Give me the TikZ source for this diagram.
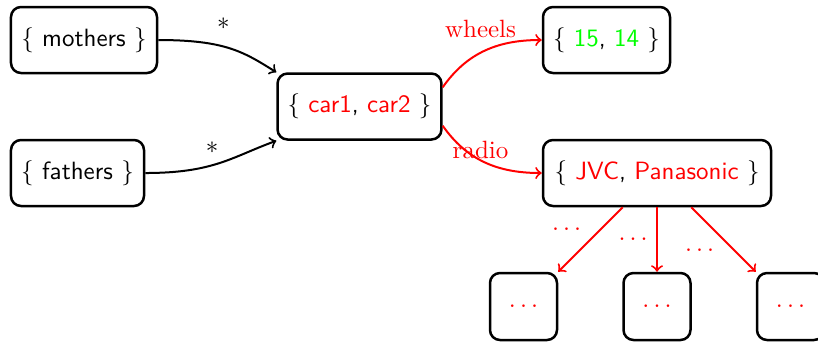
\documentclass[tikz,border=0pt]{standalone}
\usetikzlibrary{calc}
\begin{document}
\begin{tikzpicture}[x=0.4pt,y=-0.4pt,
  box/.style={draw, line width=1pt, rounded corners=4pt, minimum height=26.4pt,
    inner xsep=4pt, font=\sffamily},
  leaf/.style={box, minimum width=26.8pt, minimum height=26.8pt},
  blk/.style={->, line width=0.8pt},
  rd/.style={->, line width=0.8pt, red},
  dots/.style={text=red}]
\useasboundingbox (0,0) rectangle (818,343);

% record nodes
\node[box, minimum width=58.4pt] (mo) at (84,40) {$\{$ mothers $\}$};
\node[box, minimum width=53.2pt] (fa) at (77.5,173) {$\{$ fathers $\}$};
\node[box, minimum width=65.2pt] (car) at (359.5,106.5)
  {$\{$ \textcolor{red}{car1}, \textcolor{red}{car2} $\}$};
\node[box, minimum width=50.8pt] (wh) at (606.5,40)
  {$\{$ \textcolor{green}{15}, \textcolor{green}{14} $\}$};
\node[box, minimum width=91.2pt] (ra) at (657,173)
  {$\{$ \textcolor{red}{JVC}, \textcolor{red}{Panasonic} $\}$};
\node[leaf] (d1) at (523.5,306.5) {\textcolor{red}{$\dots$}};
\node[leaf] (d2) at (657,306.5) {\textcolor{red}{$\dots$}};
\node[leaf] (d3) at (790.5,306.5) {\textcolor{red}{$\dots$}};

% incoming references
\draw[blk] (mo.east) to[out=0,in=148,out looseness=1.4,in looseness=0.8]
  node[pos=0.5,auto,xshift=-9pt,yshift=4pt]{$*$} (car.north west);
\draw[blk] (fa.east) to[out=0,in=200,out looseness=1.3,in looseness=0.9]
  node[pos=0.5,auto,xshift=3.2pt]{$*$} (car.south west);

% outgoing attributes
\draw[rd] (car.13) to[out=55,in=180]
  node[pos=0.45,above,yshift=2.4pt]{wheels} (wh.west);
\draw[rd] (car.-13) to[out=-55,in=180]
  node[pos=0.45,above,yshift=-3.2pt]{radio} (ra.west);

% children of the radio set
\draw[rd] (ra) -- node[midway,auto=right,dots]{$\dots$} (d1);
\draw[rd] (ra) -- node[midway,auto=right,dots]{$\dots$} (d2);
\draw[rd] (ra) -- node[midway,auto=right,dots]{$\dots$} (d3);
\end{tikzpicture}
\end{document}
